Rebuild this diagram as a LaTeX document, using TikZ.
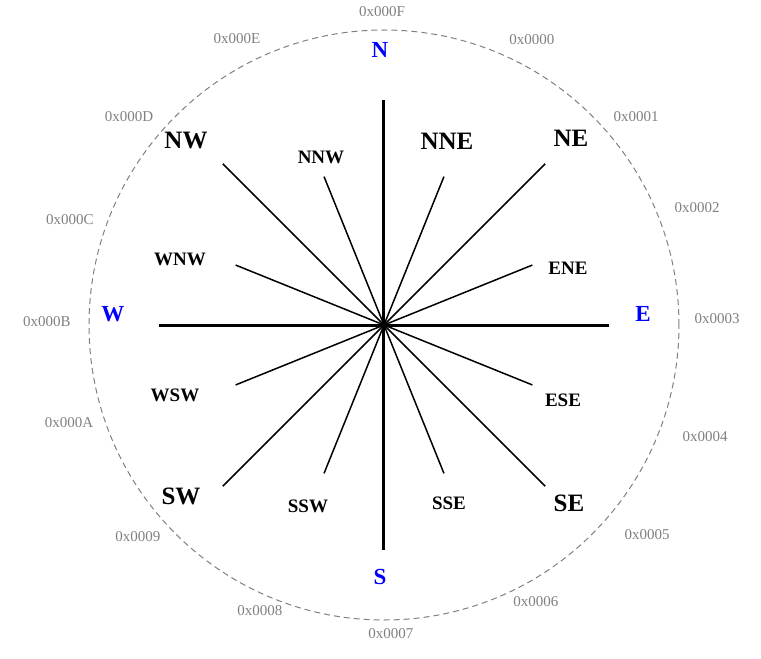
\documentclass[tikz,border=0pt]{standalone}
\usepackage{fontspec}
\setmainfont{Liberation Serif}
\begin{document}
\begin{tikzpicture}[x=1pt,y=1pt,
  big/.style={font=\fontsize{25}{25}\selectfont\bfseries},
  small/.style={font=\fontsize{19}{19}\selectfont\bfseries},
  card/.style={font=\fontsize{23}{23}\selectfont\bfseries,text=blue},
  hex/.style={font=\fontsize{15}{15}\selectfont,text=gray},
  main/.style={line width=3pt},
  minor/.style={line width=1.5pt}]
\useasboundingbox (-384,-334) rectangle (377,325);
\coordinate (c) at (0,0);
\draw[gray,dash pattern=on 6pt off 4pt,line width=1pt] (c) circle (295);
\foreach \n/\a/\r in {eN/90/225,eE/0/225,eS/270/225,eW/180/225,eNE/45/228,eNW/135/228,eSE/-45/228,eSW/225/228,
  eNNE/68/160,eENE/22/160,eESE/-22/160,eSSE/-68/160,eSSW/248/160,eWSW/202/160,eWNW/158/160,eNNW/112/160}
  \coordinate (\n) at (\a:\r);
\foreach \n in {eN,eE,eS,eW} \draw[main] (c) -- (\n);
\foreach \n in {eNE,eNW,eSE,eSW,eNNE,eENE,eESE,eSSE,eSSW,eWSW,eWNW,eNNW} \draw[minor] (c) -- (\n);
\node[card] (lN) at (-4,275) {N};
\node[card] (lE) at (259,11) {E};
\node[card] (lS) at (-4,-252) {S};
\node[card] (lW) at (-271,11) {W};
\node[big] (lNE) at (187,187) {NE};
\node[big] (lNW) at (-198,184) {NW};
\node[big] (lSE) at (185,-178) {SE};
\node[big] (lSW) at (-203,-171) {SW};
\node[big] (lNNE) at (63,184) {NNE};
\node[small] (lNNW) at (-63,168) {NNW};
\node[small] (lENE) at (184,57) {ENE};
\node[small] (lWNW) at (-204,66) {WNW};
\node[small] (lESE) at (179,-75) {ESE};
\node[small] (lWSW) at (-209,-70) {WSW};
\node[small] (lSSE) at (65,-178) {SSE};
\node[small] (lSSW) at (-76,-181) {SSW};
\foreach \k/\t/\x/\y in {0/0/532/40,1/1/636/117,2/2/697/208,3/3/717/319,4/4/705/437,5/5/647/535,
  6/6/536/602,7/7/391/634,8/8/260/611,9/9/138/537,10/A/69/423,11/B/47/322,12/C/70/220,13/D/129/117,14/E/237/39,15/F/382/12}
  \node[hex] (h\k) at (\x-384,325-\y) {0x000\t};
\end{tikzpicture}
\end{document}
